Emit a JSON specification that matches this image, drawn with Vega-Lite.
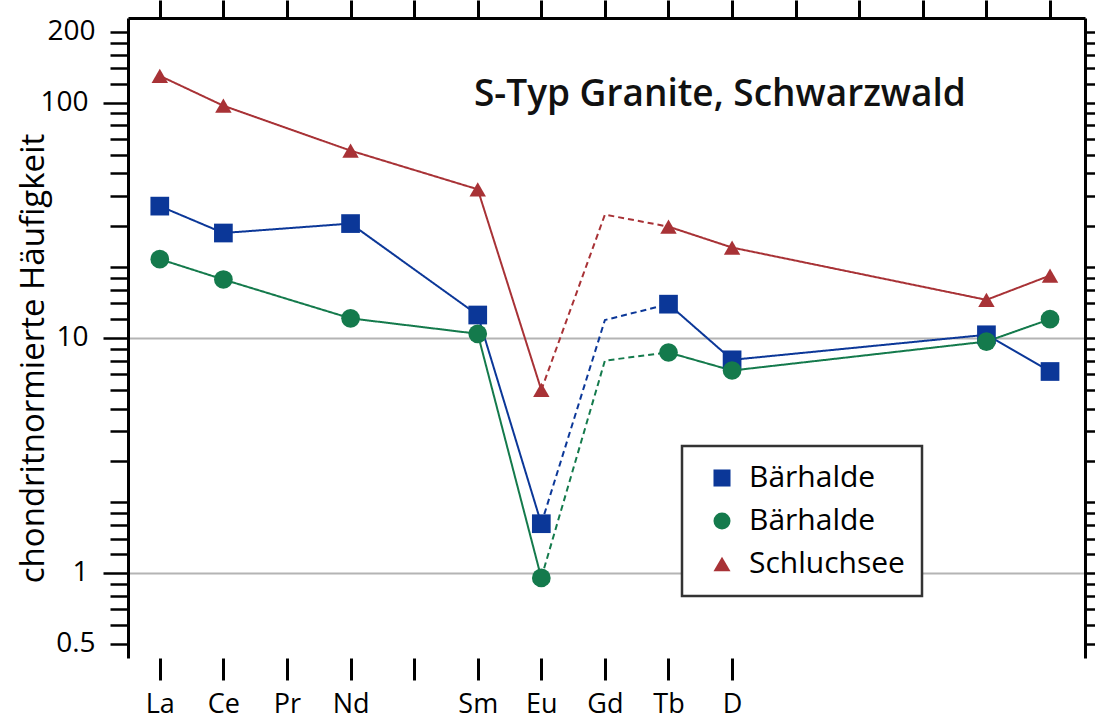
{
  "$schema": "https://vega.github.io/schema/vega-lite/v6.json",
  "width": 957,
  "height": 640,
  "autosize": {"type": "none"},
  "padding": {"left": 128, "top": 18, "right": 10, "bottom": 64},
  "background": "white",
  "config": {
    "view": {"stroke": null},
    "font": "Open Sans",
    "legend": {"strokeWidth": 2.5, "strokeColor": "#333333"}
  },
  "title": {
    "text": "S-Typ Granite, Schwarzwald",
    "anchor": "start",
    "frame": "group",
    "orient": "top",
    "offset": 0,
    "dx": 346,
    "dy": 144,
    "baseline": "alphabetic",
    "font": "Open Sans",
    "fontSize": 37,
    "fontWeight": 600,
    "color": "#111111"
  },
  "datasets": {
    "pts": [
      {"s": "A", "e": 1, "v": 36.3}, {"s": "A", "e": 2, "v": 27.9}, {"s": "A", "e": 4, "v": 30.6},
      {"s": "A", "e": 6, "v": 12.5}, {"s": "A", "e": 7, "v": 1.62}, {"s": "A", "e": 9, "v": 13.9},
      {"s": "A", "e": 10, "v": 8.06}, {"s": "A", "e": 14, "v": 10.3}, {"s": "A", "e": 15, "v": 7.19},
      {"s": "B", "e": 1, "v": 21.6}, {"s": "B", "e": 2, "v": 17.7}, {"s": "B", "e": 4, "v": 12.1},
      {"s": "B", "e": 6, "v": 10.4}, {"s": "B", "e": 7, "v": 0.953}, {"s": "B", "e": 9, "v": 8.66},
      {"s": "B", "e": 10, "v": 7.26}, {"s": "B", "e": 14, "v": 9.64}, {"s": "B", "e": 15, "v": 12.0},
      {"s": "C", "e": 1, "v": 130}, {"s": "C", "e": 2, "v": 97}, {"s": "C", "e": 4, "v": 62.5},
      {"s": "C", "e": 6, "v": 42.8}, {"s": "C", "e": 7, "v": 6.0}, {"s": "C", "e": 9, "v": 29.7},
      {"s": "C", "e": 10, "v": 24.2}, {"s": "C", "e": 14, "v": 14.5}, {"s": "C", "e": 15, "v": 18.4}
    ],
    "segs": [
      {"s": "A", "g": "A1", "d": "solid", "e": 1, "v": 36.3}, {"s": "A", "g": "A1", "d": "solid", "e": 2, "v": 27.9},
      {"s": "A", "g": "A1", "d": "solid", "e": 4, "v": 30.6}, {"s": "A", "g": "A1", "d": "solid", "e": 6, "v": 12.5},
      {"s": "A", "g": "A1", "d": "solid", "e": 7, "v": 1.62},
      {"s": "A", "g": "A2", "d": "dashed", "e": 7, "v": 1.62}, {"s": "A", "g": "A2", "d": "dashed", "e": 8, "v": 11.9},
      {"s": "A", "g": "A2", "d": "dashed", "e": 9, "v": 13.9},
      {"s": "A", "g": "A3", "d": "solid", "e": 9, "v": 13.9}, {"s": "A", "g": "A3", "d": "solid", "e": 10, "v": 8.06},
      {"s": "A", "g": "A3", "d": "solid", "e": 14, "v": 10.3}, {"s": "A", "g": "A3", "d": "solid", "e": 15, "v": 7.19},
      {"s": "B", "g": "B1", "d": "solid", "e": 1, "v": 21.6}, {"s": "B", "g": "B1", "d": "solid", "e": 2, "v": 17.7},
      {"s": "B", "g": "B1", "d": "solid", "e": 4, "v": 12.1}, {"s": "B", "g": "B1", "d": "solid", "e": 6, "v": 10.4},
      {"s": "B", "g": "B1", "d": "solid", "e": 7, "v": 0.953},
      {"s": "B", "g": "B2", "d": "dashed", "e": 7, "v": 0.953}, {"s": "B", "g": "B2", "d": "dashed", "e": 8, "v": 8.0},
      {"s": "B", "g": "B2", "d": "dashed", "e": 9, "v": 8.66},
      {"s": "B", "g": "B3", "d": "solid", "e": 9, "v": 8.66}, {"s": "B", "g": "B3", "d": "solid", "e": 10, "v": 7.26},
      {"s": "B", "g": "B3", "d": "solid", "e": 14, "v": 9.64}, {"s": "B", "g": "B3", "d": "solid", "e": 15, "v": 12.0},
      {"s": "C", "g": "C1", "d": "solid", "e": 1, "v": 130}, {"s": "C", "g": "C1", "d": "solid", "e": 2, "v": 97},
      {"s": "C", "g": "C1", "d": "solid", "e": 4, "v": 62.5}, {"s": "C", "g": "C1", "d": "solid", "e": 6, "v": 42.8},
      {"s": "C", "g": "C1", "d": "solid", "e": 7, "v": 6.0},
      {"s": "C", "g": "C2", "d": "dashed", "e": 7, "v": 6.0}, {"s": "C", "g": "C2", "d": "dashed", "e": 8, "v": 33.4},
      {"s": "C", "g": "C2", "d": "dashed", "e": 9, "v": 29.7},
      {"s": "C", "g": "C3", "d": "solid", "e": 9, "v": 29.7}, {"s": "C", "g": "C3", "d": "solid", "e": 10, "v": 24.2},
      {"s": "C", "g": "C3", "d": "solid", "e": 14, "v": 14.5}, {"s": "C", "g": "C3", "d": "solid", "e": 15, "v": 18.4}
    ]
  },
  "layer": [
    {
      "data": {"name": "segs"},
      "mark": {"type": "line", "strokeWidth": 2},
      "encoding": {
        "x": {
          "field": "e", "type": "quantitative",
          "scale": {"domain": [0.5, 15.55], "nice": false, "zero": false},
          "axis": {
            "orient": "bottom",
            "values": [1, 2, 3, 4, 5, 6, 7, 8, 9, 10, 11, 12, 13, 14, 15],
            "labelExpr": "['','La','Ce','Pr','Nd','','Sm','Eu','Gd','Tb','D','','','','',''][datum.value]",
            "labelFont": "Open Sans",
            "labelFontSize": 27,
            "labelColor": "black",
            "labelPadding": 11,
            "labelOverlap": false,
            "labelFlush": false,
            "tickSize": 22,
            "tickWidth": 3,
            "tickColor": {"condition": {"test": "datum.value <= 10", "value": "black"}, "value": "transparent"},
            "domain": false,
            "grid": false,
            "title": null
          }
        },
        "y": {
          "field": "v", "type": "quantitative",
          "scale": {"type": "log", "domain": [0.435, 229], "nice": false},
          "axis": {
            "orient": "left",
            "values": [0.5, 0.6, 0.7, 0.8, 0.9, 1, 1.2, 1.4, 1.6, 1.8, 2, 3, 4, 5, 6, 7, 8, 9, 10, 12, 14, 16, 18, 20, 30, 40, 50, 60, 70, 80, 90, 100, 120, 140, 160, 180, 200],
            "labelExpr": "(datum.value === 0.5 || datum.value === 1 || datum.value === 10 || datum.value === 100 || datum.value === 200) ? format(datum.value, '~g') : ''",
            "labelFont": "Open Sans",
            "labelFontSize": 28,
            "labelColor": "black",
            "labelPadding": 15,
            "labelOverlap": false,
            "labelFlush": false,
            "tickSize": {"condition": {"test": "datum.value === 1 || datum.value === 10 || datum.value === 100", "value": 25}, "value": 18},
            "tickWidth": 2.5,
            "tickColor": "black",
            "domainColor": "black",
            "domainWidth": 3,
            "grid": true,
            "gridColor": {"condition": {"test": "datum.value === 1 || datum.value === 10", "value": "#b4b4b4"}, "value": "transparent"},
            "gridWidth": 2,
            "title": "chondritnormierte Häufigkeit",
            "titleFont": "Open Sans",
            "titleFontSize": 33,
            "titleFontWeight": "normal",
            "titleColor": "black",
            "titleAngle": 270,
            "titleAlign": "center",
            "titleBaseline": "middle",
            "titleX": -95,
            "titleY": 340
          }
        },
        "stroke": {
          "field": "s", "type": "nominal",
          "scale": {"range": ["#0b3798", "#147a4c", "#a83236"]},
          "legend": null
        },
        "strokeDash": {
          "field": "d", "type": "nominal",
          "scale": {"range": [[6, 4], [1, 0]]},
          "legend": null
        },
        "detail": {"field": "g", "type": "nominal"}
      }
    },
    {
      "data": {"name": "pts"},
      "mark": {"type": "point", "filled": true, "opacity": 1},
      "encoding": {
        "x": {
          "field": "e", "type": "quantitative",
          "scale": {"domain": [0.5, 15.55], "nice": false, "zero": false},
          "axis": {
            "orient": "top",
            "values": [1, 2, 3, 4, 5, 6, 7, 8, 9, 10, 11, 12, 13, 14, 15],
            "labels": false,
            "tickSize": 18,
            "tickWidth": 3,
            "tickColor": "black",
            "domainColor": "black",
            "domainWidth": 3,
            "grid": false,
            "title": null
          }
        },
        "y": {
          "field": "v", "type": "quantitative",
          "scale": {"type": "log", "domain": [0.435, 229], "nice": false},
          "axis": {
            "orient": "right",
            "values": [0.5, 0.6, 0.7, 0.8, 0.9, 1, 1.2, 1.4, 1.6, 1.8, 2, 3, 4, 5, 6, 7, 8, 9, 10, 12, 14, 16, 18, 20, 30, 40, 50, 60, 70, 80, 90, 100, 120, 140, 160, 180, 200],
            "labels": false,
            "tickSize": 14,
            "tickWidth": 2.5,
            "tickColor": "black",
            "domainColor": "black",
            "domainWidth": 3,
            "grid": false,
            "title": null
          }
        },
        "color": {
          "field": "s", "type": "nominal",
          "scale": {"domain": ["A", "B", "C"], "range": ["#0b3798", "#147a4c", "#a83236"]},
          "legend": {
            "title": null,
            "orient": "none",
            "legendX": 554,
            "legendY": 428,
            "fillColor": "white",
            "strokeColor": "#333333",
            "padding": 17,
            "labelFont": "Open Sans",
            "labelFontSize": 30,
            "labelColor": "black",
            "labelLimit": 400,
            "symbolSize": 290,
            "rowPadding": 13,
            "labelOffset": 12,
            "symbolOffset": 8,
            "labelExpr": "datum.label === 'C' ? 'Schluchsee' : 'Bärhalde'"
          }
        },
        "shape": {
          "field": "s", "type": "nominal",
          "scale": {"domain": ["A", "B", "C"], "range": ["square", "circle", "triangle-up"]},
          "legend": {
            "title": null,
            "orient": "none",
            "legendX": 554,
            "legendY": 428,
            "fillColor": "white",
            "strokeColor": "#333333",
            "padding": 17,
            "labelFont": "Open Sans",
            "labelFontSize": 30,
            "labelColor": "black",
            "labelLimit": 400,
            "symbolSize": 290,
            "rowPadding": 13,
            "labelOffset": 12,
            "symbolOffset": 8,
            "labelExpr": "datum.label === 'C' ? 'Schluchsee' : 'Bärhalde'"
          }
        },
        "size": {"condition": {"test": "datum.s === 'C'", "value": 270}, "value": 350}
      }
    },
    {
      "mark": {"type": "rule", "color": "black", "strokeWidth": 3, "clip": false},
      "encoding": {
        "x": {"datum": 0.5, "type": "quantitative", "axis": null},
        "x2": {"datum": 10},
        "y": {"datum": 0.435, "type": "quantitative", "axis": null}
      }
    }
  ],
  "resolve": {"axis": {"x": "independent", "y": "independent"}}
}
